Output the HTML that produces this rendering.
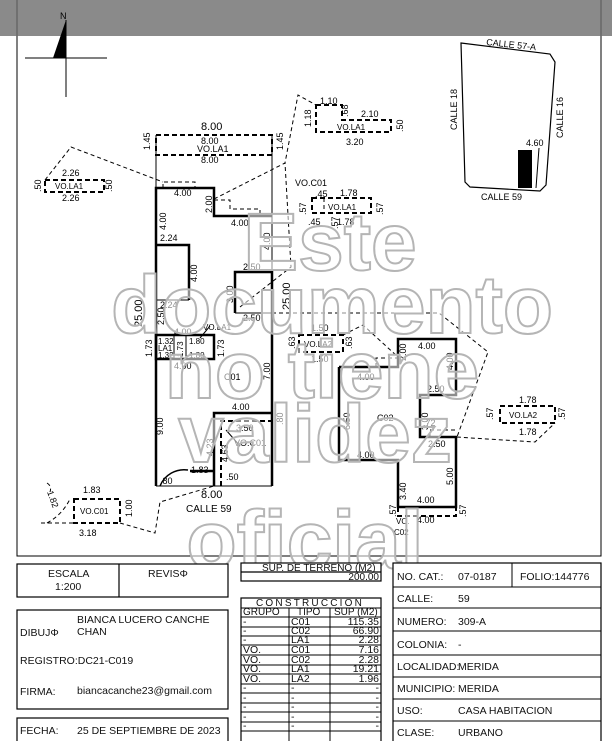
<!DOCTYPE html>
<html><head><meta charset="utf-8"><style>
html,body{margin:0;padding:0;background:#fff;}
svg{display:block;}
text{font-family:"Liberation Sans",sans-serif;}
.d{font-size:9px;fill:#000;}
.t{font-size:10.5px;fill:#111;}
.w{font-family:"Liberation Sans",sans-serif;font-size:82px;font-weight:bold;fill:#fff;fill-opacity:0.55;stroke:#b5b5b5;stroke-width:2;}
</style></head><body>
<svg width="612" height="741" viewBox="0 0 612 741" xmlns="http://www.w3.org/2000/svg">
<rect x="17" y="4" width="584" height="552" fill="#fff" stroke="#000" stroke-width="1"/>
<rect x="0" y="0" width="612" height="36" fill="#8a8a8a"/>
<line x1="17" y1="0" x2="17" y2="36" stroke="#555"/>
<line x1="601" y1="0" x2="601" y2="36" stroke="#555"/>
<!-- north -->
<text x="60" y="19" class="d" font-size="10">N</text>
<line x1="66" y1="20" x2="66" y2="97" stroke="#000"/>
<line x1="25" y1="58" x2="107" y2="58" stroke="#000"/>
<polygon points="66,20 53,58 66,58" fill="#000"/>
<!-- location map -->
<polygon points="461,43 550,54 555,62 546,185 540,191 470,187 465,182" fill="none" stroke="#000" stroke-width="1.2"/>
<rect x="518" y="150" width="14" height="38" fill="#000"/>
<line x1="539" y1="148" x2="536" y2="188" stroke="#000"/>
<text x="486" y="45" class="d" font-size="9.5" transform="rotate(6 486 45)">CALLE 57-A</text>
<text x="457" y="130" class="d" font-size="9.5" transform="rotate(-90 457 130)">CALLE 18</text>
<text x="563" y="138" class="d" font-size="9.5" transform="rotate(-90 563 138)">CALLE 16</text>
<text x="526" y="146" class="d">4.60</text>
<text x="481" y="200" class="d" font-size="9.5">CALLE 59</text>

<g fill="none" stroke="#000">
<!-- lot thin lines -->
<line x1="156" y1="135" x2="156" y2="486"/>
<line x1="272" y1="135" x2="272" y2="486"/>
<line x1="156" y1="486" x2="272" y2="486"/>
<line x1="156" y1="300" x2="189" y2="300"/>
<line x1="235" y1="313" x2="272" y2="313"/>
<!-- dashed boxes -->
<g stroke-dasharray="5,3" stroke-width="2">
<rect x="156" y="135" width="116" height="20"/>
<rect x="45" y="180" width="59" height="12"/>
<polygon points="316,105 342,105 342,120 391,120 391,132 316,132"/>
<rect x="312" y="198" width="59" height="15"/>
<rect x="299" y="335" width="44" height="17"/>
<rect x="500" y="406" width="55" height="17"/>
<polyline points="221,486 221,421 272,421"/>
<rect x="74" y="499" width="46" height="24"/>
<polyline points="398,507 398,516 456,516 456,507"/>
</g>
<!-- thin dashed -->
<g stroke-dasharray="4,3" stroke-width="1">
<polyline points="45,180 71,147 163,182"/>
<polyline points="163,188 163,182 195,182 195,188"/>
<polyline points="214,199 285,163 298,95 316,105"/>
<polyline points="214,200 230,200 230,209 260,209 260,216"/>
<polyline points="240,307 291,267 285,163"/>
<polyline points="272,313 439,313 488,352 457,437 456,437 535,442 555,423"/>
<polyline points="343,335 363,325 398,357"/>
<polyline points="376,367 376,358 398,358"/>
<polyline points="430,437 430,430 456,430"/>
<polyline points="120,523 155,533 160,502 214,486"/>
<line x1="41" y1="523" x2="74" y2="523"/>
<path d="M47,523 Q62,515 70,499 M47,483 Q52,486 50,492"/>
<line x1="324" y1="198" x2="324" y2="213"/>
</g>
<!-- thick walls C01 -->
<g stroke-width="2.5">
<polyline points="156,486 156,188 214,188 214,216 272,216"/>
<polyline points="156,245 189,245 189,300"/>
<polyline points="235,313 235,272 272,272 272,486"/>
<rect x="156" y="335" width="58" height="24"/>
<polyline points="214,486 214,413 272,413"/>
<polyline points="190,471 214,471"/>
<polyline points="339,367 398,367 398,339 456,339 456,395 420,395 420,437 456,437 456,507 398,507 398,460 339,460 339,367"/>
</g>
<line x1="174" y1="335" x2="174" y2="359"/>
<line x1="186" y1="335" x2="186" y2="359"/>
<path d="M160,486 A26,26 0 0 1 188,470" stroke-width="1.5"/>
<line x1="200" y1="338" x2="210" y2="326"/>
<line x1="226" y1="430" x2="240" y2="446"/>
</g>
<!-- plan labels -->
<g class="d">
<text x="201" y="130" font-size="11">8.00</text>
<text x="201" y="144">8.00</text>
<text x="197" y="152">VO.LA1</text>
<text x="201" y="163">8.00</text>
<text x="150" y="150" transform="rotate(-90 150 150)">1.45</text>
<text x="283" y="150" transform="rotate(-90 283 150)">1.45</text>
<text x="62" y="176">2.26</text><text x="55" y="189" font-size="8">VO.LA1</text><text x="62" y="201">2.26</text>
<text x="41" y="192" transform="rotate(-90 41 192)">.50</text><text x="112" y="192" transform="rotate(-90 112 192)">.50</text>
<text x="320" y="104">1.10</text><text x="361" y="117">2.10</text><text x="337" y="130" font-size="8">VO.LA1</text><text x="346" y="145">3.20</text>
<text x="311" y="127" transform="rotate(-90 311 127)">1.18</text><text x="348" y="117" transform="rotate(-90 348 117)">.68</text><text x="403" y="132" transform="rotate(-90 403 132)">.50</text>
<text x="295" y="186">VO.C01</text><text x="315" y="197">.45</text><text x="340" y="196">1.78</text>
<text x="328" y="210" font-size="8">VO.LA1</text><text x="308" y="225">.45</text><text x="337" y="225">1.78</text>
<text x="306" y="215" transform="rotate(-90 306 215)">.57</text><text x="383" y="215" transform="rotate(-90 383 215)">.57</text><text x="338" y="229" transform="rotate(-90 338 229)">.57</text>
<text x="174" y="196">4.00</text><text x="212" y="213" transform="rotate(-90 212 213)">2.00</text>
<text x="231" y="226">4.00</text><text x="166" y="230" transform="rotate(-90 166 230)">4.00</text>
<text x="270" y="250" transform="rotate(-90 270 250)">4.00</text>
<text x="160" y="241">2.24</text><text x="197" y="282" transform="rotate(-90 197 282)">4.00</text>
<text x="243" y="270">2.50</text><text x="233" y="303" transform="rotate(-90 233 303)">3.00</text>
<text x="290" y="310" font-size="11" transform="rotate(-90 290 310)">25.00</text>
<text x="142" y="327" font-size="11" transform="rotate(-90 142 327)">25.00</text>
<text x="160" y="308">2.24</text><text x="164" y="325" transform="rotate(-90 164 325)">2.50</text>
<text x="243" y="321">2.50</text>
<text x="174" y="335">4.00</text><text x="203" y="330" font-size="8">VO.LA1</text>
<text x="158" y="344" font-size="8">1.32</text><text x="158" y="351" font-size="8">LA1</text><text x="158" y="358" font-size="8">1.32</text>
<text x="189" y="344" font-size="8">1.80</text><text x="189" y="358" font-size="8">1.80</text>
<text x="183" y="357" font-size="8" transform="rotate(-90 183 357)">1.73</text>
<text x="152" y="357" transform="rotate(-90 152 357)">1.73</text><text x="224" y="357" transform="rotate(-90 224 357)">1.73</text>
<text x="174" y="369">4.00</text><text x="224" y="380">C01</text>
<text x="270" y="380" transform="rotate(-90 270 380)">7.00</text>
<text x="232" y="410">4.00</text><text x="283" y="425" transform="rotate(-90 283 425)">.80</text>
<text x="236" y="431">3.50</text><text x="234" y="446">VO.C01</text>
<text x="163" y="435" transform="rotate(-90 163 435)">9.00</text>
<text x="213" y="456" transform="rotate(-90 213 456)">4.23</text><text x="228" y="462" transform="rotate(-90 228 462)">4.63</text>
<text x="191" y="473">1.83</text><text x="160" y="484">.80</text><text x="226" y="480">.50</text>
<text x="201" y="498" font-size="11">8.00</text><text x="186" y="512" font-size="10">CALLE 59</text>
<text x="83" y="493">1.83</text><text x="80" y="514" font-size="8">VO.C01</text><text x="79" y="536">3.18</text>
<text x="132" y="517" transform="rotate(-90 132 517)">1.00</text><text x="47" y="492" transform="rotate(70 47 492)">1.82</text>
<text x="311" y="331">1.50</text><text x="304" y="347" font-size="8">VO.LA2</text><text x="311" y="362">1.50</text>
<text x="295" y="349" transform="rotate(-90 295 349)">.63</text><text x="352" y="349" transform="rotate(-90 352 349)">.63</text>
<text x="418" y="349">4.00</text><text x="406" y="361" transform="rotate(-90 406 361)">2.00</text>
<text x="453" y="370" transform="rotate(-90 453 370)">4.00</text><text x="357" y="380">4.00</text>
<text x="427" y="392">2.50</text><text x="350" y="430" transform="rotate(-90 350 430)">6.50</text>
<text x="377" y="421">C02</text><text x="428" y="430" transform="rotate(-90 428 430)">3.00</text>
<text x="423" y="426">.72</text><text x="428" y="447">2.50</text><text x="357" y="458">4.00</text>
<text x="453" y="485" transform="rotate(-90 453 485)">5.00</text><text x="406" y="500" transform="rotate(-90 406 500)">3.40</text>
<text x="417" y="503">4.00</text><text x="417" y="523">4.00</text>
<text x="396" y="524" font-size="8">VO.</text><text x="394" y="535" font-size="8">C02</text>
<text x="396" y="517" transform="rotate(-90 396 517)">.57</text><text x="466" y="517" transform="rotate(-90 466 517)">.57</text>
<text x="519" y="403">1.78</text><text x="509" y="418" font-size="8">VO.LA2</text><text x="519" y="435">1.78</text>
<text x="493" y="420" transform="rotate(-90 493 420)">.57</text><text x="565" y="420" transform="rotate(-90 565 420)">.57</text>
</g>
<!-- watermark -->
<g text-anchor="middle">
<text class="w" x="330" y="270">Este</text>
<text class="w" x="332" y="333">documento</text>
<text class="w" x="322" y="398">no tiene</text>
<text class="w" x="315" y="462">validez</text>
<text class="w" x="305" y="568">oficial</text>
</g>
<!-- bottom tables -->
<g fill="#fff" stroke="#000" stroke-width="1.2">
<rect x="17" y="564" width="211" height="33"/>
<line x1="119" y1="564" x2="119" y2="597"/>
<rect x="17" y="610" width="211" height="99"/>
<rect x="17" y="718" width="211" height="30"/>
<rect x="241" y="563" width="140" height="18"/>
<line x1="241" y1="572" x2="381" y2="572"/>
<rect x="241" y="598" width="140" height="150"/>
<rect x="393" y="563" width="208" height="185"/>
</g>
<g stroke="#000" stroke-width="1">
<line x1="241" y1="608" x2="381" y2="608"/>
<line x1="241" y1="617" x2="381" y2="617"/>
<line x1="289" y1="608" x2="289" y2="741"/><line x1="330" y1="608" x2="330" y2="741"/>
<line x1="241" y1="627" x2="381" y2="627"/><line x1="241" y1="636" x2="381" y2="636"/>
<line x1="241" y1="645" x2="381" y2="645"/><line x1="241" y1="655" x2="381" y2="655"/>
<line x1="241" y1="665" x2="381" y2="665"/><line x1="241" y1="674" x2="381" y2="674"/>
<line x1="241" y1="684" x2="381" y2="684"/><line x1="241" y1="693" x2="381" y2="693"/>
<line x1="241" y1="703" x2="381" y2="703"/><line x1="241" y1="712" x2="381" y2="712"/>
<line x1="241" y1="722" x2="381" y2="722"/><line x1="241" y1="731" x2="381" y2="731"/>
<line x1="393" y1="587" x2="601" y2="587"/><line x1="393" y1="608" x2="601" y2="608"/>
<line x1="393" y1="631" x2="601" y2="631"/><line x1="393" y1="655" x2="601" y2="655"/>
<line x1="393" y1="677" x2="601" y2="677"/><line x1="393" y1="699" x2="601" y2="699"/>
<line x1="393" y1="721" x2="601" y2="721"/>
<line x1="512" y1="563" x2="512" y2="587"/>
</g>
<g class="t">
<text x="48" y="577">ESCALA</text><text x="55" y="590">1:200</text>
<text x="148" y="577">REVISΦ</text>
<text x="20" y="636">DIBUJΦ</text><text x="77" y="623">BIANCA LUCERO CANCHE</text><text x="77" y="635">CHAN</text>
<text x="20" y="664">REGISTRO:DC21-C019</text>
<text x="20" y="695">FIRMA:</text><text x="77" y="694">biancacanche23@gmail.com</text>
<text x="20" y="734">FECHA:</text><text x="77" y="734">25 DE SEPTIEMBRE DE 2023</text>
<text x="262" y="571" font-size="10">SUP. DE TERRENO (M2)</text>
<text x="379" y="580" font-size="10" text-anchor="end">200.00</text>
<text x="256" y="606" font-size="10" letter-spacing="2.2">CONSTRUCCION</text>
<text x="243" y="615" font-size="10">GRUPO</text><text x="297" y="615" font-size="10">TIPO</text><text x="334" y="615" font-size="10">SUP (M2)</text>
</g>
<g class="t" font-size="10">
<text x="243" y="625">-</text><text x="291" y="625">C01</text><text x="379" y="625" text-anchor="end">115.35</text>
<text x="243" y="634">-</text><text x="291" y="634">C02</text><text x="379" y="634" text-anchor="end">66.90</text>
<text x="243" y="643">-</text><text x="291" y="643">LA1</text><text x="379" y="643" text-anchor="end">2.28</text>
<text x="243" y="653">VO.</text><text x="291" y="653">C01</text><text x="379" y="653" text-anchor="end">7.16</text>
<text x="243" y="663">VO.</text><text x="291" y="663">C02</text><text x="379" y="663" text-anchor="end">2.28</text>
<text x="243" y="672">VO.</text><text x="291" y="672">LA1</text><text x="379" y="672" text-anchor="end">19.21</text>
<text x="243" y="682">VO.</text><text x="291" y="682">LA2</text><text x="379" y="682" text-anchor="end">1.96</text>
<text x="243" y="691">-</text><text x="291" y="691">-</text><text x="379" y="691" text-anchor="end">-</text>
<text x="243" y="701">-</text><text x="291" y="701">-</text><text x="379" y="701" text-anchor="end">-</text>
<text x="243" y="710">-</text><text x="291" y="710">-</text><text x="379" y="710" text-anchor="end">-</text>
<text x="243" y="720">-</text><text x="291" y="720">-</text><text x="379" y="720" text-anchor="end">-</text>
<text x="243" y="729">-</text><text x="291" y="729">-</text><text x="379" y="729" text-anchor="end">-</text>
</g>
<g class="t">
<text x="397" y="580">NO. CAT.:</text><text x="458" y="580">07-0187</text><text x="520" y="580">FOLIO:144776</text>
<text x="397" y="602">CALLE:</text><text x="458" y="602">59</text>
<text x="397" y="625">NUMERO:</text><text x="458" y="625">309-A</text>
<text x="397" y="648">COLONIA:</text><text x="458" y="648">-</text>
<text x="397" y="670">LOCALIDAD:</text><text x="458" y="670">MERIDA</text>
<text x="397" y="692">MUNICIPIO:</text><text x="458" y="692">MERIDA</text>
<text x="397" y="714">USO:</text><text x="458" y="714">CASA HABITACION</text>
<text x="397" y="736">CLASE:</text><text x="458" y="736">URBANO</text>
</g>
</svg>
</body></html>
